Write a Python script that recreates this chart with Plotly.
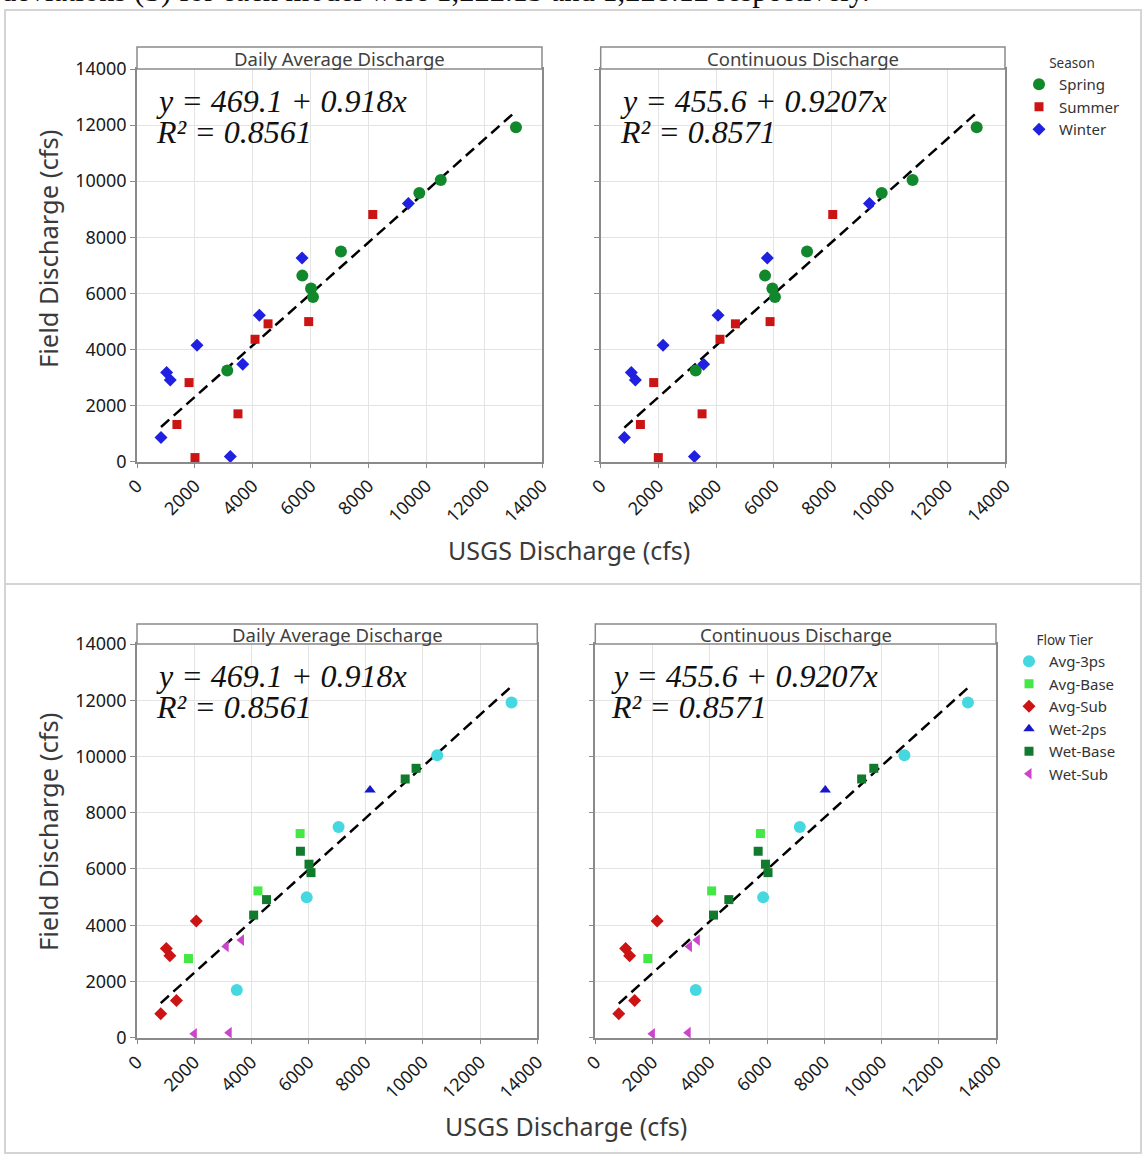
import plotly.graph_objects as go

# ---------------- data ----------------
usgs_daily = [13100, 10500, 9760, 7050, 5715, 6015, 6085, 3120,
              8150, 5935, 4530, 4080, 1800, 3490, 1380, 2005,
              9380, 5705, 4230, 2075, 3655, 1025, 1150, 830, 3225]
usgs_cont = [13020, 10800, 9730, 7145, 5690, 5945, 6035, 3290,
             8035, 5865, 4665, 4130, 1835, 3510, 1375, 1995,
             9305, 5770, 4065, 2160, 3565, 1060, 1200, 820, 3245]
field_q = [11920, 10040, 9580, 7490, 6630, 6170, 5870, 3245,
           8810, 4990, 4910, 4360, 2815, 1700, 1320, 140,
           9200, 7260, 5220, 4150, 3470, 3175, 2910, 855, 180]
season = ["Spring"] * 8 + ["Summer"] * 8 + ["Winter"] * 9
flow_tier = ["Avg-3ps", "Avg-3ps", "Wet-Base", "Avg-3ps", "Wet-Base", "Wet-Base", "Wet-Base", "Wet-Sub",
             "Wet-2ps", "Avg-3ps", "Wet-Base", "Wet-Base", "Avg-Base", "Avg-3ps", "Avg-Sub", "Wet-Sub",
             "Wet-Base", "Avg-Base", "Avg-Base", "Avg-Sub", "Wet-Sub", "Avg-Sub", "Avg-Sub", "Avg-Sub", "Wet-Sub"]

season_names = ["Spring", "Summer", "Winter"]
tier_names = ["Avg-3ps", "Avg-Base", "Avg-Sub", "Wet-2ps", "Wet-Base", "Wet-Sub"]

fit_daily = (469.1, 0.918, "0.8561")
fit_cont = (455.6, 0.9207, "0.8571")

panel_titles = ["Daily Average Discharge", "Continuous Discharge"]
x_ticks = [0, 2000, 4000, 6000, 8000, 10000, 12000, 14000]
x_tick_labels = ["0", "2000", "4000", "6000", "8000", "10000", "12000", "14000"]
y_ticks = [0, 2000, 4000, 6000, 8000, 10000, 12000, 14000]
y_tick_labels = ["0", "2000", "4000", "6000", "8000", "10000", "12000", "14000"]

# ---------------- styles ----------------
season_style = {
    "Spring": dict(symbol="circle", color="#12882c", size=12),
    "Summer": dict(symbol="square", color="#cc1414", size=9),
    "Winter": dict(symbol="diamond", color="#2020e0", size=10),
}
tier_style = {
    "Avg-3ps": dict(symbol="circle", color="#45d8e0", size=12),
    "Avg-Base": dict(symbol="square", color="#44e844", size=9),
    "Avg-Sub": dict(symbol="diamond", color="#cc1414", size=10),
    "Wet-2ps": dict(symbol="triangle-up", color="#1818c8", size=10),
    "Wet-Base": dict(symbol="square", color="#127a2c", size=9),
    "Wet-Sub": dict(symbol="triangle-left", color="#cc44cc", size=10),
}

W, H = 1143, 1154
def px(x):
    return x / W
def py(y):
    return 1 - y / H

# panel geometry in pixels: (left, right, top, bottom, strip_top)
panels = [
    (137, 542, 69, 461.5, 47),
    (600.7, 1005, 69, 461.5, 47),
    (137, 537.3, 644, 1037.7, 624),
    (595.3, 996, 644, 1037.7, 624),
]

fig = go.Figure()
layout = dict(
    template="none",
    width=W, height=H,
    margin=dict(l=0, r=0, t=0, b=0, pad=0, autoexpand=False),
    paper_bgcolor="white", plot_bgcolor="white",
    font=dict(family="Noto Sans", color="#222"),
    shapes=[], annotations=[],
)

for i, (l, r, t, b, st) in enumerate(panels):
    n = "" if i == 0 else str(i + 1)
    layout["xaxis" + n] = dict(
        domain=[px(l), px(r)], range=[0, 14000], anchor="y" + n, automargin=False,
        tickvals=x_ticks, ticktext=x_tick_labels, tickangle=-45, showgrid=True, gridcolor="#e4e4e4",
        showline=True, linecolor="#8a8a8a", linewidth=1.5, mirror=True,
        ticks="outside", ticklen=5, tickcolor="#8a8a8a", zeroline=False,
        tickfont=dict(size=18, color="#1a1a1a", family="Noto Sans"),
    )
    layout["yaxis" + n] = dict(
        domain=[py(b), py(t)], range=[0, 14000], anchor="x" + n, automargin=False,
        tickvals=y_ticks, ticktext=y_tick_labels, showgrid=True, gridcolor="#e4e4e4",
        showline=True, linecolor="#8a8a8a", linewidth=1.5, mirror=True,
        ticks="outside", ticklen=5, tickcolor="#8a8a8a", zeroline=False,
        showticklabels=(i % 2 == 0),
        tickfont=dict(size=18, color="#1a1a1a", family="Noto Sans"),
    )
    # strip header
    layout["shapes"].append(dict(type="rect", xref="paper", yref="paper",
                                 x0=px(l), x1=px(r), y0=py(t), y1=py(st),
                                 line=dict(color="#8a8a8a", width=1.5), fillcolor="white"))
    layout["annotations"].append(dict(xref="paper", yref="paper", x=(px(l) + px(r)) / 2,
                                      y=(py(t) + py(st)) / 2, text=panel_titles[i % 2],
                                      showarrow=False, xanchor="center", yanchor="middle",
                                      font=dict(size=18.5, color="#404040", family="Noto Sans")))
    # regression equation
    fit = fit_daily if i % 2 == 0 else fit_cont
    xs = usgs_daily if i % 2 == 0 else usgs_cont
    eq_x = l + 18 if i != 3 else l + 15
    layout["annotations"].append(dict(xref="paper", yref="paper", x=px(eq_x), y=py(t + 32),
                                      text="<i>y = %.1f + %sx</i>" % (fit[0], ("%g" % fit[1])),
                                      showarrow=False, xanchor="left", yanchor="middle",
                                      borderpad=0,
                                      font=dict(size=32, color="#111", family="Liberation Serif")))
    layout["annotations"].append(dict(xref="paper", yref="paper", x=px(eq_x), y=py(t + 63),
                                      text="<i>R² = %s</i>" % fit[2],
                                      showarrow=False, xanchor="left", yanchor="middle",
                                      borderpad=0,
                                      font=dict(size=32, color="#111", family="Liberation Serif")))
    # fitted line
    x_lo, x_hi = min(xs), max(xs)
    fig.add_trace(go.Scatter(x=[x_lo, x_hi], y=[fit[0] + fit[1] * x_lo, fit[0] + fit[1] * x_hi],
                             mode="lines", line=dict(color="black", width=2.5, dash="11px,6px"),
                             xaxis="x" + n, yaxis="y" + n, showlegend=False, hoverinfo="skip"))
    # points
    if i < 2:
        groups, key, styles, leg = season_names, season, season_style, "legend"
    else:
        groups, key, styles, leg = tier_names, flow_tier, tier_style, "legend2"
    for g in groups:
        idx = [k for k in range(len(field_q)) if key[k] == g]
        s = styles[g]
        fig.add_trace(go.Scatter(
            x=[xs[k] for k in idx], y=[field_q[k] for k in idx], mode="markers", name=g,
            marker=dict(symbol=s["symbol"], color=s["color"], size=s["size"], line=dict(width=0)),
            xaxis="x" + n, yaxis="y" + n, legend=leg, legendgroup=leg + g,
            showlegend=(i in (0, 2)), cliponaxis=False))

# axis titles
for (xc, yc) in [(569, 550), (566, 1126)]:
    layout["annotations"].append(dict(xref="paper", yref="paper", x=px(xc), y=py(yc),
                                      text="USGS Discharge (cfs)", showarrow=False,
                                      xanchor="center", yanchor="middle",
                                      font=dict(size=25, color="#3a3a3a", family="Noto Sans")))
for (xc, yc) in [(48, 249), (48, 832)]:
    layout["annotations"].append(dict(xref="paper", yref="paper", x=px(xc), y=py(yc),
                                      text="Field Discharge (cfs)", showarrow=False, textangle=-90,
                                      xanchor="center", yanchor="middle",
                                      font=dict(size=25.5, color="#3a3a3a", family="Noto Sans")))

# cropped document text at the very top
layout["annotations"].append(dict(xref="paper", yref="paper", x=0, y=py(9),
                                  text="deviations (S) for each model were 1,222.13 and 1,228.12 respectively.",
                                  showarrow=False, xanchor="left", yanchor="bottom", borderpad=0,
                                  font=dict(size=30.5, color="#111", family="Liberation Serif")))

# frames of the two embedded figures
layout["shapes"].append(dict(type="rect", xref="paper", yref="paper", layer="below",
                             x0=px(5), x1=px(1141), y0=py(584), y1=py(10),
                             line=dict(color="#d4d4d4", width=2)))
layout["shapes"].append(dict(type="rect", xref="paper", yref="paper", layer="below",
                             x0=px(5), x1=px(1141), y0=py(1153), y1=py(584),
                             line=dict(color="#d4d4d4", width=2)))

layout["legend"] = dict(x=px(1019), y=py(50.5), xanchor="left", yanchor="top",
                        bgcolor="rgba(0,0,0,0)", font=dict(size=15, color="#333", family="Noto Sans"),
                        title=dict(text="Season", side="top center", font=dict(size=13.5, color="#333")),
                        itemsizing="trace", tracegroupgap=0)
layout["legend2"] = dict(x=px(1009), y=py(627.5), xanchor="left", yanchor="top",
                         bgcolor="rgba(0,0,0,0)", font=dict(size=15, color="#333", family="Noto Sans"),
                         title=dict(text="Flow Tier", side="top center", font=dict(size=13.5, color="#333")),
                         itemsizing="trace", tracegroupgap=0)

fig.update_layout(**layout)
fig.write_html("out.html",
               post_script="document.body.style.margin='0';document.body.style.overflow='hidden';")
